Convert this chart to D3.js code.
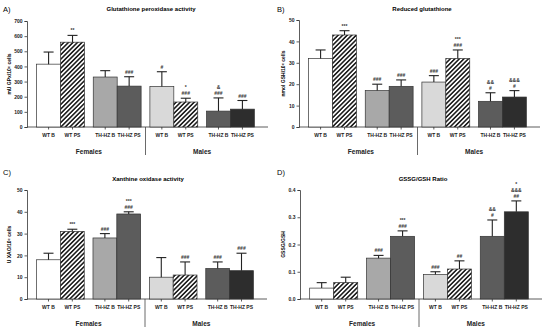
<!DOCTYPE html>
<html>
<head>
<meta charset="utf-8">
<script src="https://cdn.jsdelivr.net/npm/d3@7"></script>
<style>
  body { margin: 0; background: #fff; }
  svg { display: block; font-family: "Liberation Sans", Arial, sans-serif; }
</style>
</head>
<body>
<div id="cnt"></div>
<script>
// datos
const barLabels = ["WT B", "WT PS", "TH-HZ B", "TH-HZ PS", "WT B", "WT PS", "TH-HZ B", "TH-HZ PS"];
const sexLabels = ["Females", "Males"];

const gpxMean = [415, 560, 330, 270, 268, 165, 105, 118];
const gpxErr  = [80, 45, 42, 62, 97, 25, 87, 57];
const gpxMarks = [[], ["**"], [], ["###"], ["#"], ["*", "###"], ["&", "###"], ["###"]];
const gpxTicks = [0, 100, 200, 300, 400, 500, 600, 700];

const gshMean = [32, 43, 17, 19, 21, 32, 12, 14];
const gshErr  = [4, 2, 3, 3, 3, 4, 4, 3];
const gshMarks = [[], ["***"], ["###"], ["###"], ["###"], ["***", "###"], ["&&", "#"], ["&&&", "#"]];
const gshTicks = [0, 10, 20, 30, 40, 50];

const xaoMean = [18, 31, 28, 39, 10, 11, 14, 13];
const xaoErr  = [3, 1, 2, 1, 9, 6, 3, 8];
const xaoMarks = [[], ["***"], ["###"], ["***", "###"], [], ["###"], ["###"], ["###"]];
const xaoTicks = [0, 10, 20, 30, 40, 50];

const ratioMean = [0.04, 0.06, 0.15, 0.23, 0.09, 0.11, 0.23, 0.32];
const ratioErr  = [0.02, 0.02, 0.01, 0.02, 0.01, 0.03, 0.06, 0.04];
const ratioMarks = [[], [], ["###"], ["***", "###"], ["###"], ["##"], ["&&", "#"], ["*", "&&&", "##"]];
const ratioTicks = [0, 0.1, 0.2, 0.3, 0.4];

const fills = ["#ffffff", "url(#hatch)", "#a8a8a8", "#5c5c5c", "#d9d9d9", "url(#hatch)", "#5c5c5c", "#2d2d2d"];

const svg = d3.select("#cnt").append("svg")
    .attr("width", 550)
    .attr("height", 331);

// trama diagonal
let pat = svg.append("defs").append("pattern")
    .attr("id", "hatch")
    .attr("patternUnits", "userSpaceOnUse")
    .attr("width", 3.2)
    .attr("height", 3.2)
    .attr("patternTransform", "rotate(45)");
pat.append("rect").attr("width", 3.2).attr("height", 3.2).attr("fill", "#fff");
pat.append("line")
    .attr("x1", 1.6).attr("y1", 0).attr("x2", 1.6).attr("y2", 3.2)
    .attr("stroke", "#111").attr("stroke-width", 1.5);

function panel(cfg) {
    let g = svg.append("g");

    let y = d3.scaleLinear().domain([0, cfg.max]).range([cfg.y0, cfg.yTop]);

    let pairs = d3.scaleBand().domain([0, 1, 2, 3]).range([cfg.x0, cfg.x1])
        .paddingInner(0.155).paddingOuter(0.17);
    let inner = d3.scaleBand().domain([0, 1]).range([0, pairs.bandwidth()]);
    let bx = i => pairs(Math.floor(i / 2)) + inner(i % 2);
    let bw = inner.bandwidth();

    // letra y titulo
    g.append("text")
        .attr("x", cfg.lx).attr("y", cfg.ly)
        .style("font-size", "7.5px")
        .text(cfg.letter);
    g.append("text")
        .attr("x", cfg.tx).attr("y", cfg.ty)
        .attr("text-anchor", "middle")
        .style("font-size", "6px").style("font-weight", "bold")
        .text(cfg.title);

    // eje y
    let ay = g.append("g")
        .attr("transform", "translate(" + cfg.x0 + ",0)")
        .call(d3.axisLeft(y).tickValues(cfg.ticks).tickSize(2.5).tickPadding(2).tickFormat(cfg.fmt));
    ay.select(".domain").attr("stroke", "#333").attr("stroke-width", 0.8);
    ay.selectAll(".tick line").attr("stroke", "#333").attr("stroke-width", 0.8);
    ay.selectAll("text").style("font-size", "5px").style("font-weight", "bold")
        .attr("fill", "#222").style("font-family", "Liberation Sans, Arial, sans-serif");

    g.append("text")
        .attr("transform", "translate(" + cfg.yl + "," + ((cfg.y0 + cfg.yTop) / 2) + ") rotate(-90)")
        .attr("text-anchor", "middle")
        .style("font-size", "5px").style("font-weight", "bold")
        .text(cfg.ylabel);

    // linea base
    g.append("line")
        .attr("x1", cfg.x0).attr("x2", cfg.x1 + 4)
        .attr("y1", cfg.y0).attr("y2", cfg.y0)
        .attr("stroke", "#333").attr("stroke-width", 0.8);

    // barras
    g.selectAll("rect.bar")
        .data(cfg.mean).enter()
        .append("rect")
        .attr("class", "bar")
        .attr("x", (d, i) => bx(i))
        .attr("y", d => y(d))
        .attr("width", bw)
        .attr("height", d => cfg.y0 - y(d))
        .attr("fill", (d, i) => fills[i])
        .attr("stroke", "#333")
        .attr("stroke-width", 0.7);

    // barras de error
    cfg.mean.forEach(function (m, i) {
        let cx = bx(i) + bw / 2;
        let top = y(m + cfg.err[i]);
        g.append("line")
            .attr("x1", cx).attr("x2", cx)
            .attr("y1", y(m)).attr("y2", top)
            .attr("stroke", "#222").attr("stroke-width", 1.1);
        g.append("line")
            .attr("x1", cx - 5).attr("x2", cx + 5)
            .attr("y1", top).attr("y2", top)
            .attr("stroke", "#222").attr("stroke-width", 1.1);

        // marcas de significancia, de abajo hacia arriba
        let mk = cfg.marks[i].slice().reverse();
        mk.forEach(function (s, k) {
            g.append("text")
                .attr("x", cx)
                .attr("y", top - 3 - k * 6)
                .attr("text-anchor", "middle")
                .style("font-size", "5px").style("font-weight", "bold")
                .attr("fill", "#333")
                .text(s);
        });

        // tick y etiqueta
        g.append("line")
            .attr("x1", cx).attr("x2", cx)
            .attr("y1", cfg.y0).attr("y2", cfg.y0 + 2.5)
            .attr("stroke", "#333").attr("stroke-width", 0.8);
        g.append("text")
            .attr("x", cx).attr("y", cfg.y0 + 10)
            .attr("text-anchor", "middle")
            .style("font-size", "5px").style("font-weight", "bold")
            .attr("fill", "#222")
            .text(barLabels[i]);
    });

    // separador hembras / machos
    let sep = (pairs(1) + pairs.bandwidth() + pairs(2)) / 2;
    g.append("line")
        .attr("x1", sep).attr("x2", sep)
        .attr("y1", cfg.y0).attr("y2", cfg.y0 + 28)
        .attr("stroke", "#444").attr("stroke-width", 0.8);

    sexLabels.forEach(function (s, k) {
        let cx = (pairs(2 * k) + pairs(2 * k + 1) + pairs.bandwidth()) / 2;
        g.append("text")
            .attr("x", cx).attr("y", cfg.y0 + 27)
            .attr("text-anchor", "middle")
            .style("font-size", "6.5px").style("font-weight", "bold")
            .attr("fill", "#222")
            .text(s);
    });
}

panel({
    letter: "A)", lx: 3, ly: 12, title: "Glutathione peroxidase activity", tx: 151, ty: 11,
    x0: 27, x1: 264, yTop: 21, y0: 127, max: 700, ticks: gpxTicks, fmt: d3.format("d"),
    ylabel: "mU GPx/10⁶ cells", yl: 11,
    mean: gpxMean, err: gpxErr, marks: gpxMarks
});
panel({
    letter: "B)", lx: 277, ly: 12, title: "Reduced glutathione", tx: 422, ty: 11,
    x0: 299, x1: 536, yTop: 20, y0: 127, max: 50, ticks: gshTicks, fmt: d3.format("d"),
    ylabel: "nmol GSH/10⁶ cells", yl: 285,
    mean: gshMean, err: gshErr, marks: gshMarks
});
panel({
    letter: "C)", lx: 3, ly: 175, title: "Xanthine oxidase activity", tx: 148, ty: 181,
    x0: 27, x1: 263, yTop: 190, y0: 299, max: 50, ticks: xaoTicks, fmt: d3.format("d"),
    ylabel: "U XAO/10⁶ cells", yl: 11,
    mean: xaoMean, err: xaoErr, marks: xaoMarks
});
panel({
    letter: "D)", lx: 277, ly: 175, title: "GSSG/GSH Ratio", tx: 423, ty: 181,
    x0: 300, x1: 538, yTop: 190, y0: 299, max: 0.4, ticks: ratioTicks, fmt: d3.format(".1f"),
    ylabel: "GSSG/GSH", yl: 285,
    mean: ratioMean, err: ratioErr, marks: ratioMarks
});
</script>
</body>
</html>
